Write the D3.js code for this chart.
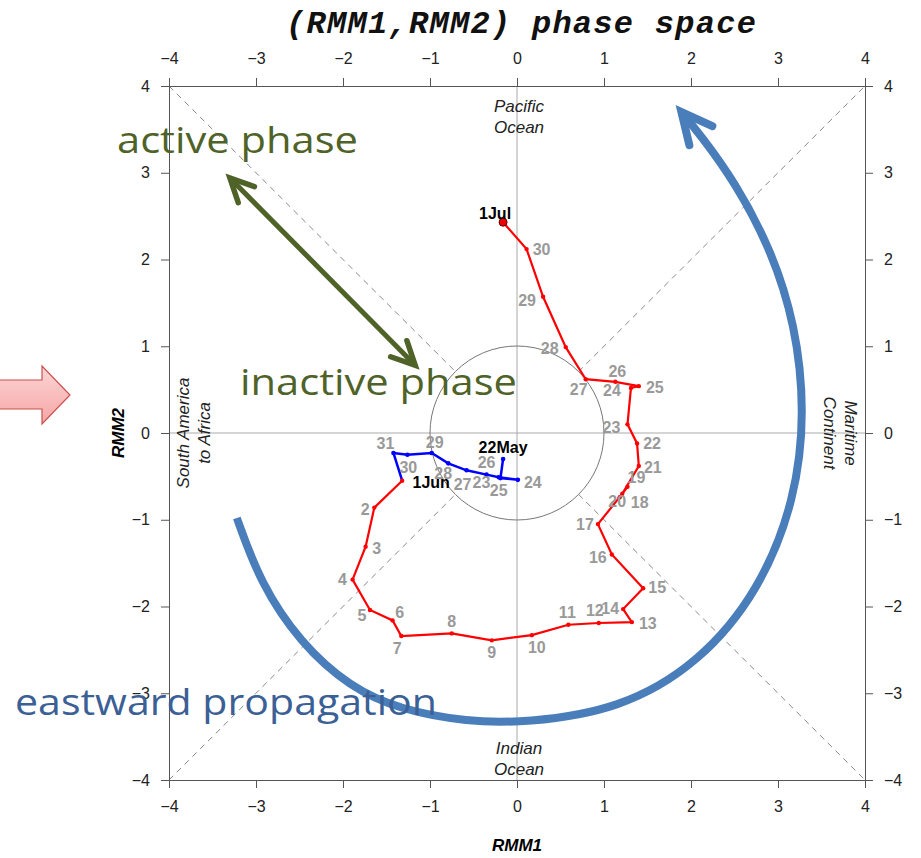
<!DOCTYPE html>
<html><head><meta charset="utf-8">
<script src="https://cdn.jsdelivr.net/npm/d3@7"></script>
<style>body{margin:0;background:#fff}svg{display:block}</style>
</head><body>
<svg id="c" width="921" height="858"></svg>
<script>
// ---------- data ----------
const axisTicks = [-4, -3, -2, -1, 0, 1, 2, 3, 4];

const mayLabels = ["22May", "23", "24", "25", "26", "27", "28", "29", "30", "31"];
const mayRMM1 = [-0.16, -0.19, 0.01, -0.21, -0.35, -0.58, -0.79, -0.98, -1.26, -1.42];
const mayRMM2 = [-0.30, -0.52, -0.54, -0.51, -0.48, -0.43, -0.35, -0.23, -0.25, -0.23];

const juneLabels = ["1Jun", "2", "3", "4", "5", "6", "7", "8", "9", "10", "11", "12", "13", "14", "15",
  "16", "17", "18", "19", "20", "21", "22", "23", "24", "25", "26", "27", "28", "29", "30", "1Jul"];
const juneRMM1 = [-1.32, -1.64, -1.74, -1.89, -1.69, -1.43, -1.33, -0.75, -0.29, 0.17, 0.59, 0.94, 1.32, 1.22, 1.45,
  1.09, 0.93, 1.18, 1.27, 1.21, 1.40, 1.38, 1.27, 1.31, 1.40, 1.13, 0.79, 0.56, 0.30, 0.11, -0.16];
const juneRMM2 = [-0.55, -0.86, -1.31, -1.69, -2.04, -2.16, -2.34, -2.31, -2.39, -2.33, -2.21, -2.19, -2.18, -2.03, -1.79,
  -1.40, -1.05, -0.74, -0.62, -0.70, -0.38, -0.12, 0.10, 0.52, 0.54, 0.59, 0.62, 0.99, 1.57, 2.12, 2.43];

// label nudges in px (layout only)
const mayNudges = [[0,-12],[-19,4],[15,2],[0,13],[0,-12],[-4,14],[-5,10],[3,-11],[1,13],[-8,-10]];
const juneNudges = [[29,2],[-9,2],[11,2],[-10,0],[-8,5],[7,-8],[-4,12],[0,-12],[0,12],[5,12],[-1,-12],[-4,-13],
  [16,1],[-13,-1],[14,-1],[-14,3],[-13,0],[20,5],[9,-10],[-5,8],[14,1],[15,0],[-16,3],[-19,2],[16,1],[2,-11],
  [-7,10],[-16,1],[-16,3],[15,0],[-8,-9]];

// annotation geometry (RMM units)
const activeArrow = [[-3.30, 2.94], [-1.17, 0.78]];
const propagationArc = [[-3.22,-0.98],[-2.95,-1.73],[-2.49,-2.42],[-1.92,-2.93],[-1.34,-3.19],[-0.57,-3.33],
  [0.10,-3.34],[1.18,-3.19],[2.10,-2.65],[2.79,-1.81],[3.20,-0.77],[3.31,0.25],[3.20,1.25],[2.92,2.12],
  [2.50,2.90],[2.12,3.42],[1.89,3.70]];

// ---------- chart ----------
const svg = d3.select("#c");
const x = d3.scaleLinear([-4, 4], [169, 865]);
const y = d3.scaleLinear([-4, 4], [780, 86]);
const fmt = d => d < 0 ? "\u2212" + Math.abs(d) : String(d);
const SANS = "'Liberation Sans', Arial, Helvetica, sans-serif";

// pink block arrow (decoration, left)
const grad = svg.append("defs").append("linearGradient").attr("id","pk").attr("x1",0).attr("y1",0).attr("x2",0).attr("y2",1);
grad.append("stop").attr("offset","0%").attr("stop-color","#fdd6d6");
grad.append("stop").attr("offset","100%").attr("stop-color","#f5a5a5");
svg.append("path").attr("d","M-2,380 L42,380 L42,366 L70,395 L42,424 L42,409 L-2,409 Z")
  .attr("fill","url(#pk)").attr("stroke","#c9504d").attr("stroke-width",1.2);

// dashed diagonals (outside unit circle)
const r1 = Math.SQRT1_2;
[[[-4,-4],[-r1,-r1]],[[r1,r1],[4,4]],[[-4,4],[-r1,r1]],[[r1,-r1],[4,-4]]].forEach(s => {
  svg.append("line").attr("x1",x(s[0][0])).attr("y1",y(s[0][1])).attr("x2",x(s[1][0])).attr("y2",y(s[1][1]))
    .attr("stroke","#888").attr("stroke-width",1).attr("stroke-dasharray","6,5");
});
// zero lines
svg.append("line").attr("x1",x(-4)).attr("x2",x(4)).attr("y1",y(0)).attr("y2",y(0)).attr("stroke","#aaa").attr("stroke-width",1);
svg.append("line").attr("x1",x(0)).attr("x2",x(0)).attr("y1",y(-4)).attr("y2",y(4)).attr("stroke","#aaa").attr("stroke-width",1);
// unit circle
svg.append("circle").attr("cx",x(0)).attr("cy",y(0)).attr("r",x(1)-x(0)).attr("fill","none").attr("stroke","#777").attr("stroke-width",1);

// axes
function styleAxis(g){
  g.select(".domain").attr("stroke","#555");
  g.selectAll(".tick line").attr("stroke","#555");
  g.selectAll(".tick text").attr("font-family",SANS).attr("font-size",16).attr("fill","#222");
}
svg.append("g").attr("transform",`translate(0,${y(-4)})`)
  .call(d3.axisBottom(x).tickValues(axisTicks).tickFormat(fmt).tickSize(8).tickPadding(13).tickSizeOuter(0)).call(styleAxis);
svg.append("g").attr("transform",`translate(0,${y(4)})`)
  .call(d3.axisTop(x).tickValues(axisTicks).tickFormat(fmt).tickSize(8).tickPadding(14).tickSizeOuter(0)).call(styleAxis);
svg.append("g").attr("transform",`translate(${x(-4)},0)`)
  .call(d3.axisLeft(y).tickValues(axisTicks).tickFormat(fmt).tickSize(8).tickPadding(11).tickSizeOuter(0)).call(styleAxis);
svg.append("g").attr("transform",`translate(${x(4)},0)`)
  .call(d3.axisRight(y).tickValues(axisTicks).tickFormat(fmt).tickSize(8).tickPadding(11).tickSizeOuter(0)).call(styleAxis);

// titles
svg.append("text").attr("x",521).attr("y",33).attr("text-anchor","middle")
  .attr("font-family","'Liberation Mono','Courier New',monospace").attr("font-weight","bold").attr("font-style","italic")
  .attr("font-size",32).attr("textLength",470).attr("fill","#111").text("(RMM1,RMM2) phase space");
svg.append("text").attr("x",x(0)).attr("y",851).attr("text-anchor","middle")
  .attr("font-family",SANS).attr("font-weight","bold").attr("font-style","italic").attr("font-size",17).text("RMM1");
svg.append("text").attr("transform",`translate(124,${y(0)}) rotate(-90)`).attr("text-anchor","middle")
  .attr("font-family",SANS).attr("font-weight","bold").attr("font-style","italic").attr("font-size",17).text("RMM2");

// region labels
const reg = (tx, ty, rot, lines) => {
  const t = svg.append("text").attr("transform",`translate(${tx},${ty}) rotate(${rot})`).attr("text-anchor","middle")
    .attr("font-family",SANS).attr("font-style","italic").attr("font-size",17).attr("fill","#222");
  lines.forEach((l,i) => t.append("tspan").attr("x",0).attr("dy", i ? 21 : 0).text(l));
};
reg(x(0)+2, y(4)+26, 0, ["Pacific","Ocean"]);
reg(x(0)+2, y(-4)-26, 0, ["Indian","Ocean"]);
reg(x(-4)+20, y(0), -90, ["South America","to Africa"]);
reg(x(4)-20, y(0), 90, ["Maritime","Continent"]);

// series
const may = mayLabels.map((l,i)=>({l, a:mayRMM1[i], b:mayRMM2[i], n:mayNudges[i]}));
const june = juneLabels.map((l,i)=>({l, a:juneRMM1[i], b:juneRMM2[i], n:juneNudges[i]}));
const line = d3.line().x(d=>x(d.a)).y(d=>y(d.b));
svg.append("path").datum(may.concat([june[0]])).attr("d",line).attr("fill","none").attr("stroke","#0000ff").attr("stroke-width",2.5);
svg.append("path").datum(june).attr("d",line).attr("fill","none").attr("stroke","#ff0000").attr("stroke-width",2.2);
svg.selectAll(".md").data(may).join("circle").attr("cx",d=>x(d.a)).attr("cy",d=>y(d.b)).attr("r",2.3).attr("fill","#0000ff");
svg.selectAll(".jd").data(june).join("circle").attr("cx",d=>x(d.a)).attr("cy",d=>y(d.b)).attr("r",2.2).attr("fill","#ff0000");
svg.append("circle").attr("cx",x(june[june.length-1].a)).attr("cy",y(june[june.length-1].b)).attr("r",4).attr("fill","#e00").attr("stroke","#600").attr("stroke-width",1);

const big = new Set(["22May","1Jun","1Jul"]);
svg.selectAll(".lab").data(may.concat(june)).join("text")
  .attr("x",d=>x(d.a)+d.n[0]).attr("y",d=>y(d.b)+d.n[1]).attr("dy","0.36em").attr("text-anchor","middle")
  .attr("font-family",SANS).attr("font-weight","bold").attr("font-size",16)
  .attr("fill",d=>big.has(d.l)?"#000":"#999").text(d=>d.l);

// annotation arrows
function chevron(tip, from, L, ang){
  const dx = from[0]-tip[0], dy = from[1]-tip[1], len = Math.hypot(dx,dy);
  const ux = dx/len, uy = dy/len, a = ang*Math.PI/180;
  const p1 = [tip[0] + L*(ux*Math.cos(a)-uy*Math.sin(a)), tip[1] + L*(ux*Math.sin(a)+uy*Math.cos(a))];
  const p2 = [tip[0] + L*(ux*Math.cos(-a)-uy*Math.sin(-a)), tip[1] + L*(ux*Math.sin(-a)+uy*Math.cos(-a))];
  return `M${p1}L${tip}L${p2}`;
}
const G = "#4f6228";
const A0 = [x(activeArrow[0][0]), y(activeArrow[0][1])], A1 = [x(activeArrow[1][0]), y(activeArrow[1][1])];
svg.append("path").attr("d",`M${A0}L${A1}`).attr("stroke",G).attr("stroke-width",5).attr("fill","none");
svg.append("path").attr("d",chevron(A0,A1,26,26)).attr("stroke",G).attr("stroke-width",5.5).attr("fill","none").attr("stroke-linecap","round");
svg.append("path").attr("d",chevron(A1,A0,26,26)).attr("stroke",G).attr("stroke-width",5.5).attr("fill","none").attr("stroke-linecap","round");

const B = "#4a7ebb";
const arcPts = propagationArc.map(p=>[x(p[0]),y(p[1])]);
svg.append("path").attr("d",d3.line().curve(d3.curveBasis)(arcPts)).attr("fill","none").attr("stroke",B).attr("stroke-width",8);
const tip = arcPts[arcPts.length-1], prev = arcPts[arcPts.length-2];
svg.append("path").attr("d",chevron(tip,prev,34,26)).attr("stroke",B).attr("stroke-width",8).attr("fill","none").attr("stroke-linecap","round");

// annotation text
const CAL = "'Open Sans', Lato, 'Noto Sans', sans-serif";
const ann = (tx, ty, w, col, s) => svg.append("text").attr("x",tx).attr("y",ty).attr("font-family",CAL).attr("font-size",36)
  .attr("fill",col).attr("textLength",w).attr("lengthAdjust","spacingAndGlyphs").text(s);
ann(117, 153, 241, G, "active phase");
ann(240, 395, 277, G, "inactive phase");
ann(15, 715, 422, "#3b6096", "eastward propagation");
</script>
</body></html>
